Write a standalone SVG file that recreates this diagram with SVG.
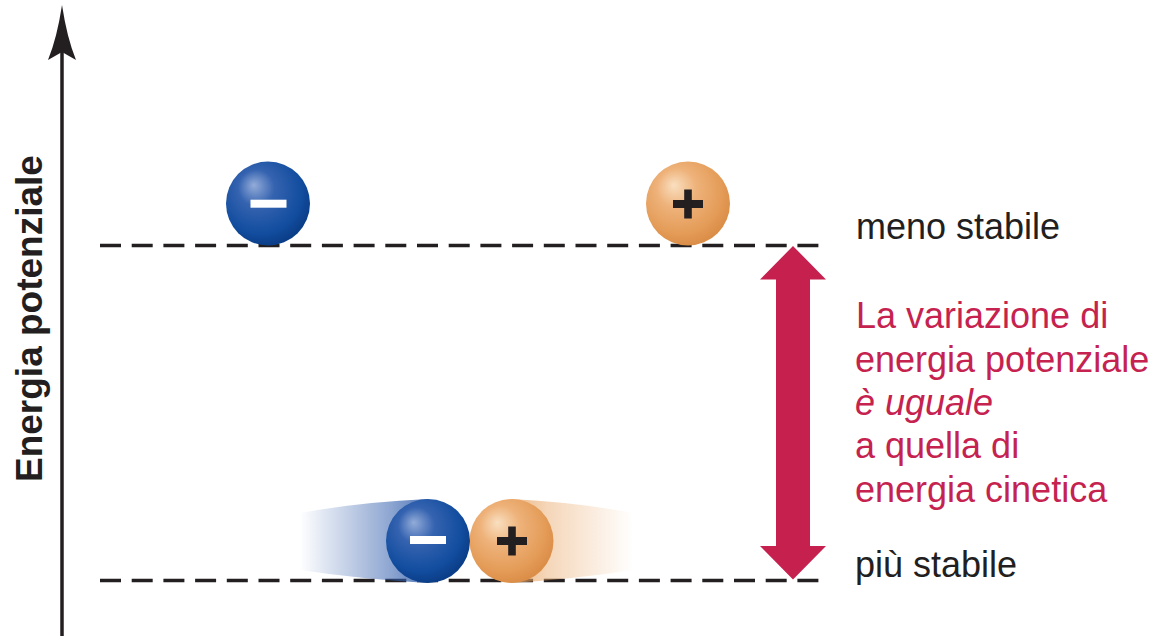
<svg xmlns="http://www.w3.org/2000/svg" width="1161" height="636" viewBox="0 0 1161 636">
  <style>
    .lbl { font-family: "Liberation Sans", Arial, sans-serif; font-size: 36px; fill: #231f20; }
    .red { font-family: "Liberation Sans", Arial, sans-serif; font-size: 36px; fill: #c6224f; }
    .axis-title { font-family: "Liberation Sans", Arial, sans-serif; font-size: 37px; font-weight: bold; fill: #231f20; }
    .level { stroke: #231f20; stroke-width: 3.5; stroke-dasharray: 21 10.7; fill: none; }
    .minus { fill: #ffffff; }
    .plus { fill: #231f20; }
  </style>
  <defs>
    <radialGradient id="gBlue" cx="0.42" cy="0.38" r="0.62" fx="0.33" fy="0.28">
      <stop offset="0" stop-color="#93acd8"/>
      <stop offset="0.35" stop-color="#3563b0"/>
      <stop offset="0.8" stop-color="#124d9f"/>
      <stop offset="1" stop-color="#0b3e88"/>
    </radialGradient>
    <radialGradient id="gOrange" cx="0.42" cy="0.38" r="0.62" fx="0.33" fy="0.28">
      <stop offset="0" stop-color="#f9dfc0"/>
      <stop offset="0.38" stop-color="#eeb27a"/>
      <stop offset="0.8" stop-color="#e49c58"/>
      <stop offset="1" stop-color="#db8e48"/>
    </radialGradient>
    <linearGradient id="trailBlue" x1="300" y1="0" x2="430" y2="0" gradientUnits="userSpaceOnUse">
      <stop offset="0" stop-color="#2f5cab" stop-opacity="0"/>
      <stop offset="0.7" stop-color="#2f5cab" stop-opacity="0.55"/>
      <stop offset="1" stop-color="#2f5cab" stop-opacity="0.85"/>
    </linearGradient>
    <linearGradient id="trailOrange" x1="633" y1="0" x2="510" y2="0" gradientUnits="userSpaceOnUse">
      <stop offset="0" stop-color="#e8a462" stop-opacity="0"/>
      <stop offset="0.7" stop-color="#e8a462" stop-opacity="0.45"/>
      <stop offset="1" stop-color="#e8a462" stop-opacity="0.8"/>
    </linearGradient>
  </defs>

  <!-- potential energy axis -->
  <g id="axis">
    <line x1="62" y1="40" x2="62" y2="636" stroke="#231f20" stroke-width="3.5"/>
    <path d="M62,5 Q57,38 48,60 L62,52 L76,60 Q67,38 62,5 Z" fill="#231f20"/>
    <text class="axis-title" transform="translate(42,482) rotate(-90)">Energia potenziale</text>
  </g>

  <!-- energy levels -->
  <g id="levels">
    <line class="level" x1="100" y1="245.5" x2="825" y2="245.5"/>
    <line class="level" x1="100" y1="580.5" x2="825" y2="580.5"/>
    <text class="lbl" x="856" y="239">meno stabile</text>
    <text class="lbl" x="855" y="577">più stabile</text>
  </g>

  <!-- separated ions (upper level) -->
  <g id="ion-neg-top">
    <circle cx="268" cy="203.5" r="42" fill="url(#gBlue)"/>
    <rect class="minus" x="250.5" y="199.7" width="36" height="8"/>
  </g>
  <g id="ion-pos-top">
    <circle cx="688" cy="203.5" r="42" fill="url(#gOrange)"/>
    <rect class="plus" x="673" y="200" width="30" height="8"/>
    <rect class="plus" x="684.2" y="189.5" width="7.6" height="29"/>
  </g>

  <!-- ions together (lower level) with motion trails -->
  <g id="trails">
    <path d="M300,513 Q360,502 428,499 L428,583 Q360,579 300,570 Z" fill="url(#trailBlue)"/>
    <path d="M633,513 Q575,502 511,499 L511,583 Q575,579 633,570 Z" fill="url(#trailOrange)"/>
  </g>
  <g id="ion-pos-bottom">
    <circle cx="511.5" cy="541" r="42" fill="url(#gOrange)"/>
    <rect class="plus" x="497" y="537" width="30" height="8"/>
    <rect class="plus" x="508.2" y="526.5" width="7.6" height="29"/>
  </g>
  <g id="ion-neg-bottom">
    <circle cx="428" cy="541" r="42" fill="url(#gBlue)"/>
    <rect class="minus" x="410" y="536" width="36" height="8"/>
  </g>

  <!-- energy difference arrow -->
  <g id="connectors">
    <path d="M793,246 L826,279.5 L810,279.5 L810,546 L826,546 L793,579.5 L760,546 L776,546 L776,279.5 L760,279.5 Z" fill="#c6204f"/>
  </g>

  <!-- explanation -->
  <g id="note">
    <text class="red" x="856" y="328">La variazione di</text>
    <text class="red" x="855" y="372">energia potenziale</text>
    <text class="red" x="855" y="415" font-style="italic">è uguale</text>
    <text class="red" x="855" y="458">a quella di</text>
    <text class="red" x="855" y="502">energia cinetica</text>
  </g>
</svg>
